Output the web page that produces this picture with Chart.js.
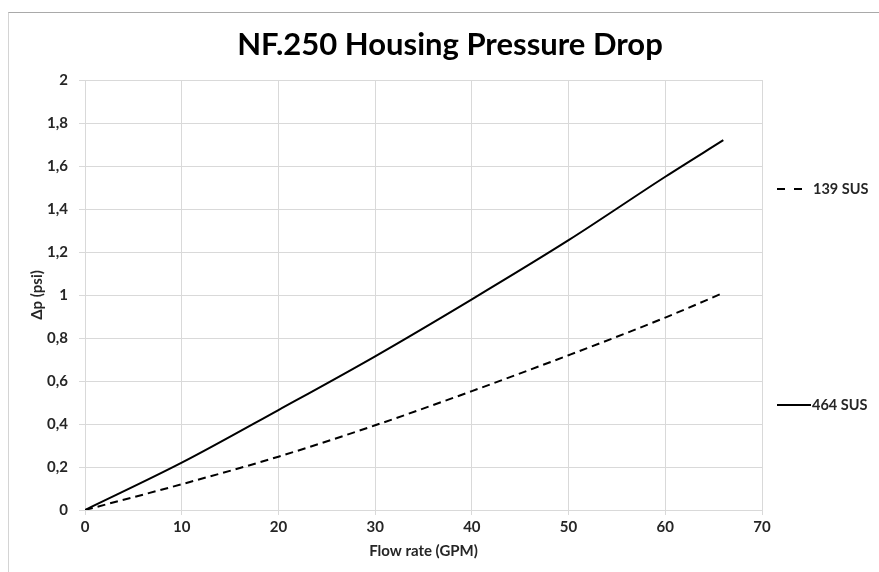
<!DOCTYPE html>
<html>
<head>
<meta charset="utf-8">
<script src="https://cdn.jsdelivr.net/npm/chart.js@4/dist/chart.umd.min.js"></script>
<style>
  html, body { margin: 0; padding: 0; background: #fff; }
  #wrap { position: relative; width: 879px; height: 572px; overflow: hidden; }
  #frame { position: absolute; left: 8px; top: 12px; right: -2px; bottom: -2px;
           border-top: 1px solid #a9a9a9; border-left: 1px solid #d4d4d4; }
  canvas { position: absolute; left: 0; top: 0; }
</style>
</head>
<body>
<div id="wrap">
  <div id="frame"></div>
  <canvas id="grafico" width="879" height="572"></canvas>
</div>
<script>
// valores
const vazao = [0, 10, 20, 30, 40, 50, 60, 66];           // GPM
const dp139 = [0, 0.12, 0.248, 0.394, 0.553, 0.72, 0.895, 1.01];
const dp464 = [0, 0.22, 0.465, 0.715, 0.98, 1.255, 1.55, 1.72];
const nomes = ['139 SUS', '464 SUS'];
const titulo = 'NF.250 Housing Pressure Drop';
const tituloX = 'Flow rate (GPM)';
const tituloY = 'Δp (psi)';

const fonte = 'Lato, "Open Sans", sans-serif';
const corTexto = '#262626';
const corGrade = '#d9d9d9';

function pares(xs, ys) {
    return xs.map((x, i) => ({ x: x, y: ys[i] }));
}

// titulo e legenda desenhados a mao, como no Excel
const extras = {
    id: 'extras',
    afterDraw(chart) {
        const ctx = chart.ctx;
        ctx.save();
        ctx.fillStyle = '#000';
        ctx.font = 'bold 31px ' + fonte;
        ctx.textAlign = 'center';
        ctx.textBaseline = 'middle';
        ctx.fillText(titulo, 450, 45);

        ctx.font = 'bold 14.5px ' + fonte;
        ctx.textAlign = 'left';
        ctx.fillStyle = corTexto;
        ctx.strokeStyle = '#000';
        ctx.lineWidth = 2;

        // 139 SUS tracejado
        ctx.setLineDash([8, 9]);
        ctx.beginPath();
        ctx.moveTo(777, 189);
        ctx.lineTo(803, 189);
        ctx.stroke();
        ctx.fillText(nomes[0], 813, 189);

        // 464 SUS continua
        ctx.setLineDash([]);
        ctx.beginPath();
        ctx.moveTo(777, 405);
        ctx.lineTo(811, 405);
        ctx.stroke();
        ctx.fillText(nomes[1], 812, 405);
        ctx.restore();
    }
};

document.addEventListener('DOMContentLoaded', function() {
    const ctx = document.getElementById('grafico').getContext('2d');
    new Chart(ctx, {
        type: 'line',
        data: {
            datasets: [{
                label: nomes[0],
                data: pares(vazao, dp139),
                borderColor: '#000',
                borderWidth: 2,
                borderDash: [8, 5],
                pointRadius: 0,
                cubicInterpolationMode: 'monotone',
                fill: false
            }, {
                label: nomes[1],
                data: pares(vazao, dp464),
                borderColor: '#000',
                borderWidth: 2,
                pointRadius: 0,
                cubicInterpolationMode: 'monotone',
                fill: false
            }]
        },
        options: {
            responsive: false,
            animation: false,
            devicePixelRatio: 1,
            layout: { padding: { left: 8, right: 117, top: 80, bottom: 0 } },
            plugins: {
                legend: { display: false },
                title: { display: false },
                tooltip: { enabled: false }
            },
            scales: {
                x: {
                    type: 'linear',
                    min: 0,
                    max: 70,
                    afterFit(scale) { scale.height = 62; },
                    ticks: {
                        stepSize: 10,
                        padding: 3,
                        color: corTexto,
                        font: { family: fonte, size: 15, weight: 'bold' }
                    },
                    grid: { color: corGrade, tickLength: 5 },
                    border: { color: corGrade },
                    title: {
                        display: true,
                        text: tituloX,
                        color: corTexto,
                        padding: { top: 0, bottom: 12 },
                        font: { family: fonte, size: 15, weight: 'bold' }
                    }
                },
                y: {
                    min: 0,
                    max: 2,
                    afterFit(scale) { scale.width = 77; },
                    ticks: {
                        stepSize: 0.2,
                        padding: 11,
                        color: corTexto,
                        font: { family: fonte, size: 15, weight: 'bold' },
                        callback: v => String(Number(v.toFixed(1))).replace('.', ',')
                    },
                    grid: { color: corGrade, tickLength: 6 },
                    border: { color: corGrade },
                    title: {
                        display: true,
                        text: tituloY,
                        color: corTexto,
                        padding: { top: 20, bottom: 0 },
                        font: { family: fonte, size: 15, weight: 'bold' }
                    }
                }
            }
        },
        plugins: [extras]
    });
});
</script>
</body>
</html>
